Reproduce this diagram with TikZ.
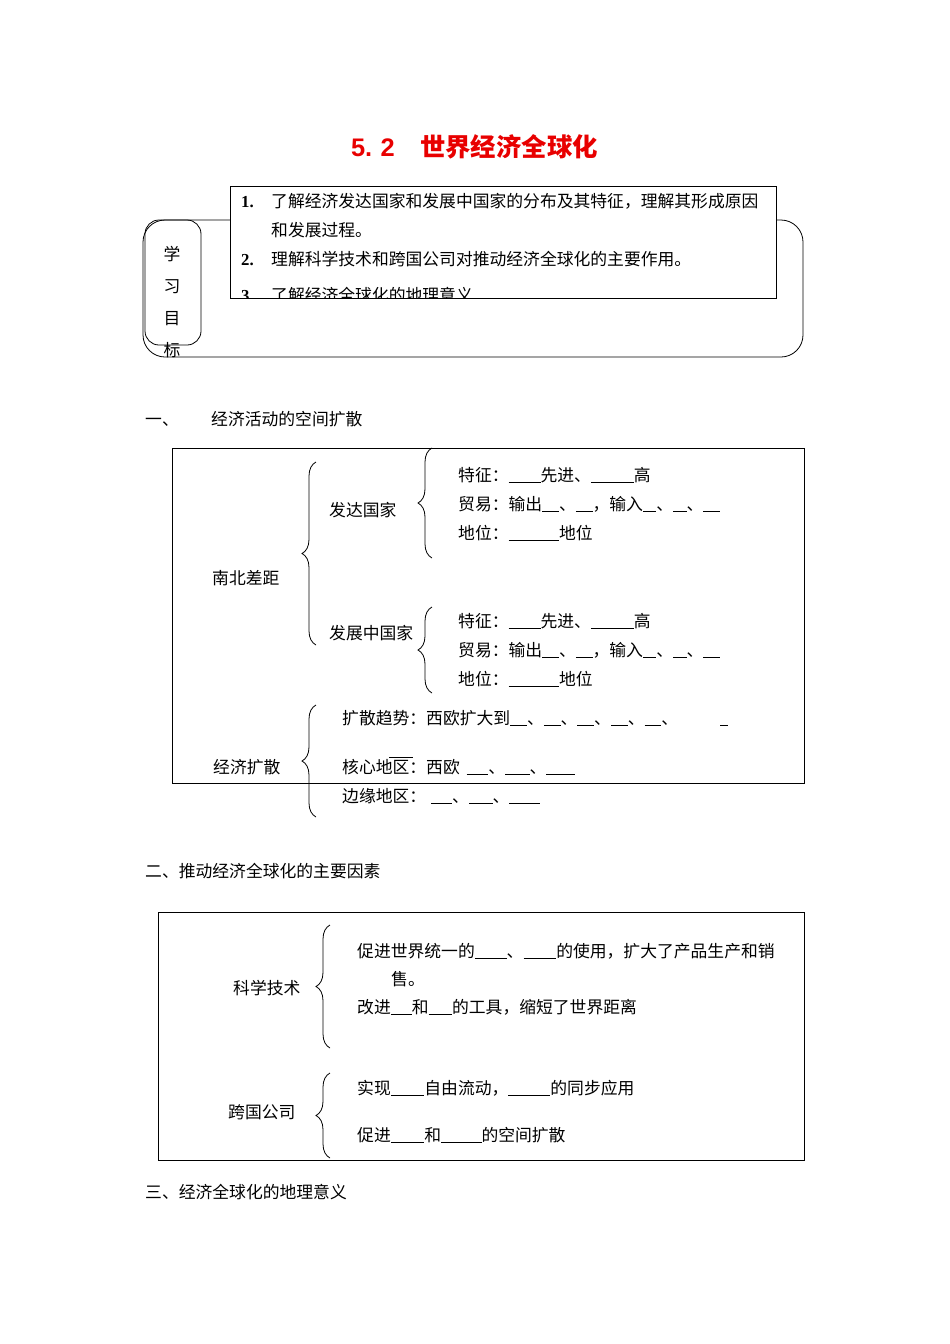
\documentclass[tikz,border=0pt]{standalone}
\usepackage{fontspec}
\setmainfont{Liberation Serif}
\setsansfont{Liberation Sans}
\newfontfamily\cjk{Noto Sans CJK SC}
\usepackage{tikz}
\usetikzlibrary{decorations.pathreplacing, positioning}
\definecolor{titelrot}{HTML}{E80000}
\newcommand{\leer}[1]{\rule[-1.5pt]{#1em}{0.7pt}}

\begin{document}
\begin{tikzpicture}[
        x=1pt, y=-1pt,
        every node/.style={font=\cjk\fontsize{16.8}{20}\selectfont, inner sep=0pt,
          anchor=west, text height=14.8pt, text depth=2pt},
        kasten/.style={draw, line width=0.8pt},
        klammer/.style={decorate, decoration={brace, amplitude=14pt}, line width=0.8pt},
        nummer/.style={font=\rmfamily\bfseries\fontsize{16.8}{20}\selectfont},
      ]
      \useasboundingbox (0,0) rectangle (950,1344);

      % Titel
      \node (titel) at (474.5,150) [anchor=center, text=titelrot,
        font=\fontsize{25.4}{30}\selectfont\bfseries]
        {\sffamily 5.\,\,2\hspace{1em}\cjk 世界经济全球化};

      % Lernziele
      \draw[kasten, rounded corners=22pt] (143,220) rectangle (803,357);
      \draw[kasten, rounded corners=14pt] (145,220) rectangle (201,345);
      \node (ziel1) at (172,254) [anchor=center] {学};
      \node (ziel2) at (172,286) [anchor=center] {习};
      \node (ziel3) at (172,318) [anchor=center] {目};
      \node (ziel4) at (172,350) [anchor=center] {标};
      \draw[kasten, fill=white] (230,186) rectangle (776,298);
      \begin{scope}
        \clip (230,186) rectangle (776,298);
        \node[nummer] (n1) at (241,201) {1.};
        \node (z1) at (271,201) {了解经济发达国家和发展中国家的分布及其特征，理解其形成原因};
        \node (z1b) at (271,230) {和发展过程。};
        \node[nummer] (n2) at (241,259) {2.};
        \node (z2) at (271,259) {理解科学技术和跨国公司对推动经济全球化的主要作用。};
        \node[nummer] (n3) at (241,295) {3.};
        \node (z3) at (271,295) {了解经济全球化的地理意义};
      \end{scope}
      \draw[kasten] (230,186) rectangle (776,298);

      % Teil eins
      \node (eins) at (145,419) {一、};
      \node (einsT) at (211,419) {经济活动的空间扩散};
      \draw[kasten] (172,448) rectangle (804,783);

      \node (nordsued) at (212,578) {南北差距};
      \coordinate (k1o) at (316,462);
      \coordinate (k1u) at (316,645);
      \draw[klammer] (k1u) -- (k1o);

      \node (industrie) at (329,510) {发达国家};
      \coordinate (k2o) at (432,448);
      \coordinate (k2u) at (432,558);
      \draw[klammer] (k2u) -- (k2o);
      \node (i1) at (458,475) {特征：\leer{1.9}先进、\leer{2.55}高};
      \node (i2) at (458,504) {贸易：输出\leer{1}、\leer{1}，输入\leer{0.8}、\leer{0.8}、\leer{1}};
      \node (i3) at (458,533) {地位：\leer{3}地位};

      \node (entwicklung) at (329,633) {发展中国家};
      \coordinate (k3o) at (432,607);
      \coordinate (k3u) at (432,693);
      \draw[klammer] (k3u) -- (k3o);
      \node (e1) at (458,621) {特征：\leer{1.9}先进、\leer{2.55}高};
      \node (e2) at (458,650) {贸易：输出\leer{1}、\leer{1}，输入\leer{0.8}、\leer{0.8}、\leer{1}};
      \node (e3) at (458,679) {地位：\leer{3}地位};

      \node (ausbreitung) at (213,767) {经济扩散};
      \coordinate (k4o) at (316,705);
      \coordinate (k4u) at (316,817);
      \draw[klammer] (k4u) -- (k4o);
      \node (a1) at (342,718) {扩散趋势：西欧扩大到\leer{1}、\leer{1}、\leer{1}、\leer{1}、\leer{1}、\hspace{2.5em}\leer{0.45}};
      \node (a2) at (342,767) {核心地区：西欧\hspace{0.4em}\leer{1.3}、\leer{1.45}、\leer{1.7}};
      \draw[line width=0.7pt] (389,757) -- (413,757);
      \node (a3) at (342,796) {边缘地区：\hspace{0.3em}\leer{1.25}、\leer{1.4}、\leer{1.8}};

      % Teil zwei
      \node (zwei) at (145,871) {二、推动经济全球化的主要因素};
      \draw[kasten] (158,912) rectangle (804,1160);

      \node (technik) at (233,988) {科学技术};
      \coordinate (k5o) at (330,925);
      \coordinate (k5u) at (330,1048);
      \draw[klammer] (k5u) -- (k5o);
      \node (t1) at (357,951) {促进世界统一的\leer{1.9}、\leer{1.95}的使用，扩大了产品生产和销};
      \node (t1b) at (391,979) {售。};
      \node (t2) at (357,1007) {改进\leer{1.25}和\leer{1.4}的工具，缩短了世界距离};

      \node (konzern) at (228,1112) {跨国公司};
      \coordinate (k6o) at (330,1073);
      \coordinate (k6u) at (330,1158);
      \draw[klammer] (k6u) -- (k6o);
      \node (f1) at (357,1088) {实现\leer{2}自由流动，\leer{2.5}的同步应用};
      \node (f2) at (357,1135) {促进\leer{2}和\leer{2.4}的空间扩散};

      % Teil drei
      \node (drei) at (145,1192) {三、经济全球化的地理意义};
    \end{tikzpicture}
\end{document}
